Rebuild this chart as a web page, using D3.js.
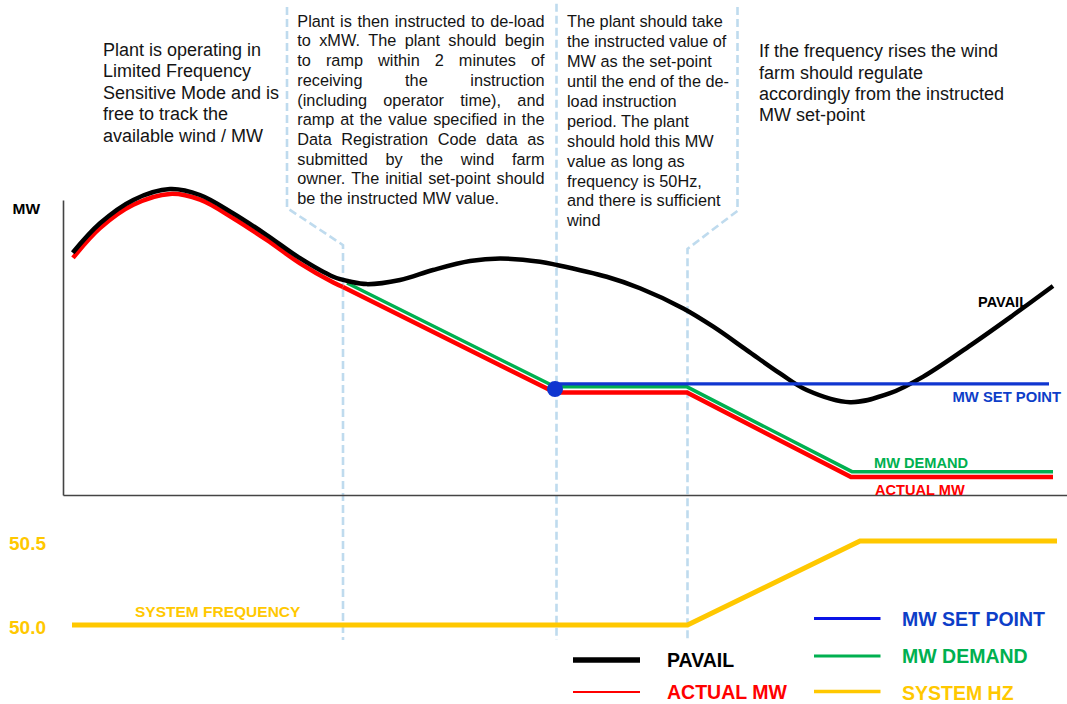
<!DOCTYPE html>
<html><head><meta charset="utf-8">
<script src="https://cdn.jsdelivr.net/npm/d3@7/dist/d3.min.js"></script>
<style>
body{margin:0;background:#fff}
svg{display:block;font-family:"Liberation Sans",Arial,sans-serif}
</style>
</head><body>
<svg id="chart" width="1067" height="704"></svg>
<script>
// ---------------- DATA ----------------
// time axis in arbitrary units (0..100), MW in arbitrary units (0..100)
const pavailT  = [0.97, 3.7, 7.03, 10.7, 13.7, 17.03, 20.37, 23.7, 27.03, 28.7, 30.37, 33.7, 37.0, 40.7, 43.7, 47.7, 49.37, 54.37, 57.7, 62.03, 65.03, 68.37, 71.7, 74.37, 78.7, 82.7, 86.03, 91.03, 95.03, 99.0];
const pavailMW = [75.7, 84.9, 92.2, 95.6, 93.75, 88.0, 81.25, 74.0, 68.2, 66.7, 65.9, 67.2, 70.3, 73.1, 73.9, 72.9, 71.9, 68.2, 64.6, 58.3, 52.6, 45.3, 38.0, 32.8, 29.0, 31.8, 37.0, 47.4, 56.25, 65.3];

const actualCurveT  = [1.0, 3.7, 7.03, 10.7, 13.7, 17.03, 20.37, 23.7, 27.03, 28.0];
const actualCurveMW = [74.1, 83.4, 90.7, 94.1, 92.3, 86.5, 79.7, 72.4, 66.4, 65.0];
const actualRampT   = [28.0, 49.2, 62.4, 78.8, 99.0];
const actualRampMW  = [65.0, 32.0, 32.0, 5.6, 5.6];

const demandT  = [28.4, 49.2, 62.4, 78.9, 99.0];
const demandMW = [66.25, 33.8, 33.8, 7.3, 7.3];

const setPointT  = [49.2, 98.6];
const setPointMW = [34.7, 34.7];
const deloadPointT = 49.2, deloadPointMW = 33.1;

const freqT  = [0.9, 62.45, 79.7, 99.4];
const freqHz = [50.0, 50.0, 50.5, 50.5];
const hzTicks = [50.0, 50.5];

// dashed period boundaries (time, MW-scale units)
const guide1 = [[22.4, 152.5], [22.4, 89.7], [28.0, 78.1], [28.0, -45.3]];
const guide2 = [[49.35, 153.5], [49.35, -45.3]];
const guide3 = [[67.45, 152.5], [67.45, 88.8], [62.45, 76.9], [62.45, -45.3]];

const note1 = ["Plant is operating in", "Limited Frequency", "Sensitive Mode and is", "free to track the", "available wind / MW"];
const note2 = ["Plant is then instructed to de-load", "to xMW. The plant should begin", "to ramp within 2 minutes of", "receiving the instruction", "(including operator time), and", "ramp at the value specified in the", "Data Registration Code data as", "submitted by the wind farm", "owner. The initial set-point should", "be the instructed MW value."];
const note3 = ["The plant should take", "the instructed value of", "MW as the set-point", "until the end of the de-", "load instruction", "period. The plant", "should hold this MW", "value as long as", "frequency is 50Hz,", "and there is sufficient", "wind"];
const note4 = ["If the frequency rises the wind", "farm should regulate", "accordingly from the instructed", "MW set-point"];

const legendCol1 = ["PAVAIL", "ACTUAL MW"];
const legendCol2 = ["MW SET POINT", "MW DEMAND", "SYSTEM HZ"];

// ---------------- STYLE ----------------
const C = {
  black: "#000000", red: "#ff0000", green: "#00b050", blue: "#1036d0",
  blueText: "#0d3ec8", legendBlue: "#0a14e6", yellow: "#ffc800", guide: "#bfdbee",
  axis: "#444444", text: "#141414"
};

const svg = d3.select("#chart");
const x  = d3.scaleLinear().domain([0, 100]).range([63, 1063]);
const y  = d3.scaleLinear().domain([0, 100]).range([495, 175]);
const yh = d3.scaleLinear().domain([50.0, 50.5]).range([625, 541]);

const zip = (a, b) => a.map((v, i) => [v, b[i]]);
const lineMW = d3.line().x(d => x(d[0])).y(d => y(d[1]));
const smoothMW = d3.line().x(d => x(d[0])).y(d => y(d[1])).curve(d3.curveCatmullRom.alpha(0.5));
const lineHz = d3.line().x(d => x(d[0])).y(d => yh(d[1]));

// guides
[guide1, guide2, guide3].forEach(g => {
  svg.append("path").attr("d", lineMW(g)).attr("fill", "none")
    .attr("stroke", C.guide).attr("stroke-width", 2.6).attr("stroke-dasharray", "8,4");
});

// axes (no ticks)
svg.append("g").attr("transform", `translate(${x(0)},0)`)
  .call(d3.axisLeft(d3.scaleLinear().range([495, 200])).tickValues([]).tickSizeOuter(0))
  .select(".domain").attr("stroke", C.axis).attr("stroke-width", 1.6);
svg.append("g").attr("transform", `translate(0,${y(0)})`)
  .call(d3.axisBottom(d3.scaleLinear().range([63, 1067])).tickValues([]).tickSizeOuter(0))
  .select(".domain").attr("stroke", C.axis).attr("stroke-width", 1.6);

svg.append("text").attr("x", 12.5).attr("y", 213.5).text("MW")
  .style("font-size", "15.5px").style("font-weight", "bold").attr("fill", C.black);

// Hz axis labels
const hzAxis = svg.append("g").attr("transform", "translate(47,0)")
  .call(d3.axisLeft(yh).tickValues(hzTicks).tickFormat(d3.format(".1f")).tickSize(0).tickPadding(1));
hzAxis.select(".domain").remove();
hzAxis.selectAll("text").attr("fill", C.yellow).style("font-size", "19px")
  .style("font-weight", "bold").style("font-family", '"Liberation Sans",Arial,sans-serif')
  .attr("dy", "0.43em");

// series
svg.append("path").attr("d", smoothMW(zip(actualCurveT, actualCurveMW))).attr("fill", "none")
  .attr("stroke", C.red).attr("stroke-width", 4.5);
svg.append("path").attr("d", lineMW(zip(actualRampT, actualRampMW))).attr("fill", "none")
  .attr("stroke", C.red).attr("stroke-width", 4.5);
svg.append("path").attr("d", lineMW(zip(demandT, demandMW))).attr("fill", "none")
  .attr("stroke", C.green).attr("stroke-width", 3.5);
svg.append("path").attr("d", smoothMW(zip(pavailT, pavailMW))).attr("fill", "none")
  .attr("stroke", C.black).attr("stroke-width", 4.5);
svg.append("path").attr("d", lineMW(zip(setPointT, setPointMW))).attr("fill", "none")
  .attr("stroke", C.blue).attr("stroke-width", 3.2);
svg.append("circle").attr("cx", x(deloadPointT)).attr("cy", y(deloadPointMW)).attr("r", 8)
  .attr("fill", C.blue);

svg.append("path").attr("d", lineHz(zip(freqT, freqHz))).attr("fill", "none")
  .attr("stroke", C.yellow).attr("stroke-width", 5);

// series labels
const lbl = (t, px, py, col, size, anchor) => svg.append("text").attr("x", px).attr("y", py).text(t)
  .attr("fill", col).style("font-size", size + "px").style("font-weight", "bold").attr("text-anchor", anchor || "start");
lbl("PAVAIL", x(pavailT[pavailT.length - 1]) - 25, y(pavailMW[pavailMW.length - 1]) + 21, C.black, 14.5, "end");
lbl("MW SET POINT", x(setPointT[1]) + 12, y(setPointMW[1]) + 18, C.blueText, 14.8, "end");
lbl("MW DEMAND", x(demandT[3]) + 22, y(demandMW[3]) - 4, C.green, 14.6);
lbl("ACTUAL MW", x(actualRampT[3]) + 24, y(actualRampMW[3]) + 18, C.red, 14.6);
lbl("SYSTEM FREQUENCY", 135, yh(50.0) - 8, C.yellow, 15.5);

// annotations
function plain(lines, x0, y0, step, size) {
  const g = svg.append("g").attr("fill", C.text).style("font-size", size + "px");
  lines.forEach((l, i) => g.append("text").attr("x", x0).attr("y", y0 + i * step).text(l));
}
function justified(lines, x0, x1, y0, step, size) {
  const g = svg.append("g").attr("fill", C.text).style("font-size", size + "px");
  lines.forEach((l, i) => {
    const t = g.append("text").attr("y", y0 + i * step);
    const words = l.split(" ");
    if (i === lines.length - 1 || words.length < 2) { t.attr("x", x0).text(l); return; }
    const spans = words.map(w => t.append("tspan").text(w));
    const w = spans.map(s => s.node().getComputedTextLength());
    const gap = (x1 - x0 - d3.sum(w)) / (words.length - 1);
    let cx = x0;
    spans.forEach((s, j) => { s.attr("x", cx); cx += w[j] + gap; });
  });
}
plain(note1, 103, 56, 21.4, 18);
justified(note2, 297.3, 544.5, 26.7, 19.7, 16.3);
plain(note3, 567, 27.3, 19.9, 16.3);
plain(note4, 759, 57.3, 21.2, 18);

// legend
const legendStyle = {
  "PAVAIL": {stroke: C.black, w: 5.5, text: C.black},
  "ACTUAL MW": {stroke: C.red, w: 2.2, text: C.red},
  "MW SET POINT": {stroke: C.legendBlue, w: 3.2, text: C.blueText},
  "MW DEMAND": {stroke: C.green, w: 3.2, text: C.green},
  "SYSTEM HZ": {stroke: C.yellow, w: 3.6, text: C.yellow}
};
function legend(items, lx0, lx1, tx, ys, bs) {
  items.forEach((name, i) => {
    const s = legendStyle[name];
    svg.append("line").attr("x1", lx0).attr("x2", lx1).attr("y1", ys[i]).attr("y2", ys[i])
      .attr("stroke", s.stroke).attr("stroke-width", s.w);
    svg.append("text").attr("x", tx).attr("y", bs[i]).text(name).attr("fill", s.text)
      .style("font-size", "19.5px").style("font-weight", "bold");
  });
}
legend(legendCol1, 573, 640, 667, [660, 692], [666.5, 699]);
legend(legendCol2, 814, 880.5, 902, [618.5, 656, 691.5], [626, 663, 700]);
</script>
</body></html>
